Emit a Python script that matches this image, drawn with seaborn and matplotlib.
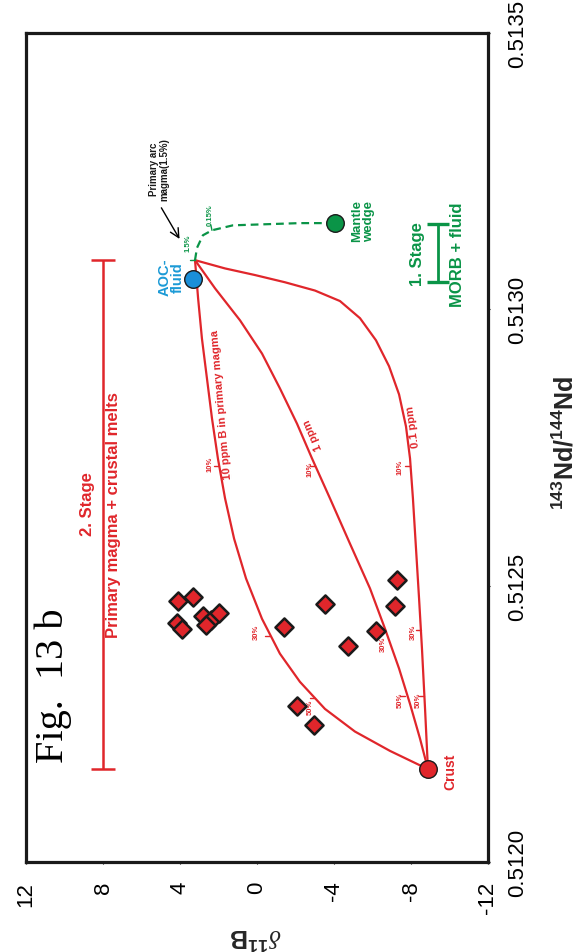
import matplotlib
matplotlib.use("Agg")
import matplotlib.pyplot as plt
import seaborn as sns

sns.set_theme(style="white")
plt.rcParams['font.family'] = ['Liberation Sans', 'DejaVu Sans']
plt.rcParams['mathtext.fontset'] = 'custom'
plt.rcParams['mathtext.rm'] = 'Liberation Sans'
plt.rcParams['mathtext.bf'] = 'Liberation Sans:bold'
plt.rcParams['mathtext.it'] = 'Liberation Serif:italic'

RED = '#e0262b'
GREEN = '#0a9447'
BLUE = '#1a8fd8'
INK = '#1a1a1a'

# ---- measured samples (d11B, 143Nd/144Nd) ----
sample_d11b = [4.10, 3.32, 4.16, 3.90, 2.81, 2.39, 1.97, 2.65,
               -1.40, -3.53, -4.73, -2.08, -2.96, -7.27, -7.17, -6.18]
sample_nd = [0.512473, 0.512480, 0.512433, 0.512422, 0.512446, 0.512438, 0.512451, 0.512428,
             0.512426, 0.512466, 0.512391, 0.512283, 0.512248, 0.512511, 0.512464, 0.512418]

# ---- end members ----
crust_d11b, crust_nd = -8.88, 0.512168
aoc_d11b, aoc_nd = 3.32, 0.513054
mantle_d11b, mantle_nd = -4.05, 0.513156

# ---- stage 1: mantle wedge + AOC fluid mixing (dashed) ----
fluid_mix_d11b = [3.22, 3.12, 2.81, 2.34, 1.25, -2.23, -4.05]
fluid_mix_nd = [0.513089, 0.513111, 0.513134, 0.513143, 0.513152, 0.513156, 0.513156]

# ---- stage 2: primary magma + crustal melt mixing curves ----
mix10_d11b = [3.22, 3.06, 2.86, 2.60, 2.34, 2.03, 1.66, 1.19, 0.57, -0.26, -1.19, -2.23,
              -3.53, -5.09, -6.91, -8.88]
mix10_nd = [0.513089, 0.513020, 0.512947, 0.512875, 0.512803, 0.512730, 0.512658, 0.512585,
            0.512513, 0.512440, 0.512377, 0.512326, 0.512277, 0.512236, 0.512201, 0.512168]
mix1_d11b = [3.22, 2.18, 0.88, -0.26, -1.19, -2.08, -2.86, -3.79, -4.83, -5.87, -6.65, -7.38,
             -7.95, -8.47, -8.88]
mix1_nd = [0.513089, 0.513038, 0.512980, 0.512920, 0.512857, 0.512793, 0.512730, 0.512658,
           0.512576, 0.512495, 0.512422, 0.512350, 0.512286, 0.512223, 0.512168]
mix01_d11b = [3.22, 1.66, 0.10, -1.45, -3.01, -4.31, -5.35, -6.18, -6.86, -7.38, -7.74, -7.95,
              -8.10, -8.26, -8.42, -8.57, -8.73, -8.88]
mix01_nd = [0.513089, 0.513074, 0.513062, 0.513049, 0.513034, 0.513015, 0.512984, 0.512944,
            0.512897, 0.512846, 0.512788, 0.512730, 0.512658, 0.512567, 0.512476, 0.512386,
            0.512277, 0.512168]

# percentage marks of crustal melt on each mixing curve
pct_labels = ['10%', '30%', '50%']
pct10_d11b, pct10_nd = [1.97, -0.68, -3.01], [0.512717, 0.512409, 0.512297]
pct1_d11b, pct1_nd = [-3.01, -6.65, -7.69], [0.512717, 0.512422, 0.512301]
pct01_d11b, pct01_nd = [-7.97, -8.52, -8.70], [0.512717, 0.512420, 0.512301]
pct10_lab = ([2.44, 0.05, -2.75], [0.512721, 0.512418, 0.512281])
pct1_lab = ([-2.75, -6.55, -7.43], [0.512712, 0.512395, 0.512295])
pct01_lab = ([-7.42, -8.12, -8.36], [0.512716, 0.512417, 0.512295])

# stage ranges (143Nd/144Nd spans)
stage1_d11b, stage1_nd = -9.40, (0.513049, 0.513154)
stage2_d11b, stage2_nd = 8.0, (0.512168, 0.513089)

x_ticks = [12, 8, 4, 0, -4, -8, -12]
y_ticks = [0.5120, 0.5125, 0.5130, 0.5135]
y_tick_labels = ['0.5120', '0.5125', '0.5130', '0.5135']

fig = plt.figure(figsize=(5.77, 9.53), dpi=100)
ax = fig.add_axes([26 / 577, 90 / 953, 462 / 577, 829 / 953])

# mixing curves
for xs, ys in [(mix10_d11b, mix10_nd), (mix1_d11b, mix1_nd), (mix01_d11b, mix01_nd)]:
    sns.lineplot(x=xs, y=ys, sort=False, estimator=None, color=RED, lw=1.6, ax=ax)
sns.lineplot(x=fluid_mix_d11b, y=fluid_mix_nd, sort=False, estimator=None, color=GREEN,
             lw=1.6, linestyle=(0, (3.5, 2.2)), ax=ax)

# percentage ticks and labels
for (tx, ty), (lx, ly) in [((pct10_d11b, pct10_nd), pct10_lab),
                           ((pct1_d11b, pct1_nd), pct1_lab),
                           ((pct01_d11b, pct01_nd), pct01_lab)]:
    for lab, bx, by, qx, qy in zip(pct_labels, tx, ty, lx, ly):
        ax.plot([bx, bx + 0.28], [by, by], color=RED, lw=1.0)
        ax.text(qx, qy, lab, rotation=90, ha='center', va='center', fontsize=5.5,
                fontweight='bold', color=RED)

# green fluid percentage marks
ax.plot([2.34, 2.40], [0.513143, 0.513153], color=GREEN, lw=1.0)
ax.text(2.44, 0.513172, '0.15%', rotation=90, ha='center', va='center', fontsize=5.5,
        fontweight='bold', color=GREEN)
ax.plot([3.22, 3.5], [0.513089, 0.513089], color=GREEN, lw=1.0)
ax.text(3.58, 0.513121, '1.5%', rotation=90, ha='center', va='center', fontsize=5.5,
        fontweight='bold', color=GREEN)

# curve names
ax.text(1.82, 0.512830, '10 ppm B in primary magma', rotation=95, ha='center', va='center',
        fontsize=8, fontweight='bold', color=RED)
ax.text(-2.91, 0.512775, '1 ppm', rotation=113, ha='center', va='center',
        fontsize=8, fontweight='bold', color=RED)
ax.text(-8.10, 0.512790, '0.1 ppm', rotation=98, ha='center', va='center',
        fontsize=8, fontweight='bold', color=RED)

# samples
sns.scatterplot(x=sample_d11b, y=sample_nd, marker='D', s=85, color=RED,
                edgecolor=INK, linewidth=1.8, ax=ax, zorder=5)

# end members
sns.scatterplot(x=[crust_d11b], y=[crust_nd], marker='o', s=160, color=RED,
                edgecolor=INK, linewidth=1.0, ax=ax, zorder=6)
sns.scatterplot(x=[aoc_d11b], y=[aoc_nd], marker='o', s=160, color=BLUE,
                edgecolor=INK, linewidth=1.0, ax=ax, zorder=6)
sns.scatterplot(x=[mantle_d11b], y=[mantle_nd], marker='o', s=160, color=GREEN,
                edgecolor=INK, linewidth=1.0, ax=ax, zorder=6)

ax.text(-10.03, 0.512165, 'Crust', rotation=90, ha='center', va='center',
        fontsize=10, fontweight='bold', color=RED)
ax.text(4.47, 0.513060, 'AOC-\nfluid', rotation=90, ha='center', va='center',
        fontsize=10.5, fontweight='bold', color='#1b9ad6', linespacing=0.95)
ax.text(-5.51, 0.513161, 'Mantle\nwedge', rotation=90, ha='center', va='center',
        fontsize=9.5, fontweight='bold', color=GREEN, linespacing=1.0)
ax.text(5.09, 0.513255, 'Primary arc\nmagma(1.5%)', rotation=90, ha='center', va='center',
        fontsize=7, fontweight='bold', color=INK, linespacing=1.0)
ax.annotate('', xy=(3.95, 0.513123), xytext=(5.04, 0.513188),
            arrowprops=dict(arrowstyle='->', color='black', lw=1.0, mutation_scale=16))

# stage ranges
ax.errorbar(stage2_d11b, sum(stage2_nd) / 2, yerr=(stage2_nd[1] - stage2_nd[0]) / 2,
            color=RED, lw=1.8, capsize=8.5, capthick=1.8, fmt='none')
ax.text(8.83, 0.512649, '2. Stage', rotation=90, ha='center', va='center',
        fontsize=12, fontweight='bold', color=RED)
ax.text(7.48, 0.512630, 'Primary magma + crustal melts', rotation=90, ha='center', va='center',
        fontsize=12, fontweight='bold', color=RED)
ax.errorbar(stage1_d11b, sum(stage1_nd) / 2, yerr=(stage1_nd[1] - stage1_nd[0]) / 2,
            color=GREEN, lw=2.0, capsize=8, capthick=2.4, fmt='none')
ax.text(-8.36, 0.513101, '1. Stage', rotation=90, ha='center', va='center',
        fontsize=12, fontweight='bold', color=GREEN)
ax.text(-10.44, 0.513101, 'MORB + fluid', rotation=90, ha='center', va='center',
        fontsize=12, fontweight='bold', color=GREEN)

ax.text(10.6, 0.512321, 'Fig.  13 b', rotation=90, ha='center', va='center',
        fontsize=29, family='Liberation Serif', color='black')

# axes
ax.set_xlim(12, -12)
ax.set_ylim(0.5120, 0.5135)
ax.set_xticks(x_ticks)
ax.set_xticklabels([str(v) for v in x_ticks], rotation=90, fontsize=16, va='top')
ax.yaxis.tick_right()
ax.set_yticks(y_ticks)
ax.set_yticklabels(y_tick_labels, rotation=90, fontsize=16, va='center', ha='left')
ax.tick_params(axis='both', length=1.5, width=0.8, colors='black', pad=12, direction='out')
ax.tick_params(axis='x', bottom=True, top=False)
ax.tick_params(axis='y', right=True, left=False)
ax.set_xlabel('')
ax.set_ylabel('')
for sp in ax.spines.values():
    sp.set_linewidth(2.3)
    sp.set_color(INK)

fig.text(256 / 577, 1 - 937 / 953, r'$\delta^{\mathbf{11}}\mathbf{B}$', rotation=180,
         ha='center', va='center', fontsize=18)
fig.text(565 / 577, 1 - 443 / 953, r'$\mathbf{{}^{143}Nd/{}^{144}Nd}$', rotation=90,
         ha='center', va='center', fontsize=18)

fig.savefig('out.png', dpi=100, facecolor='white')
